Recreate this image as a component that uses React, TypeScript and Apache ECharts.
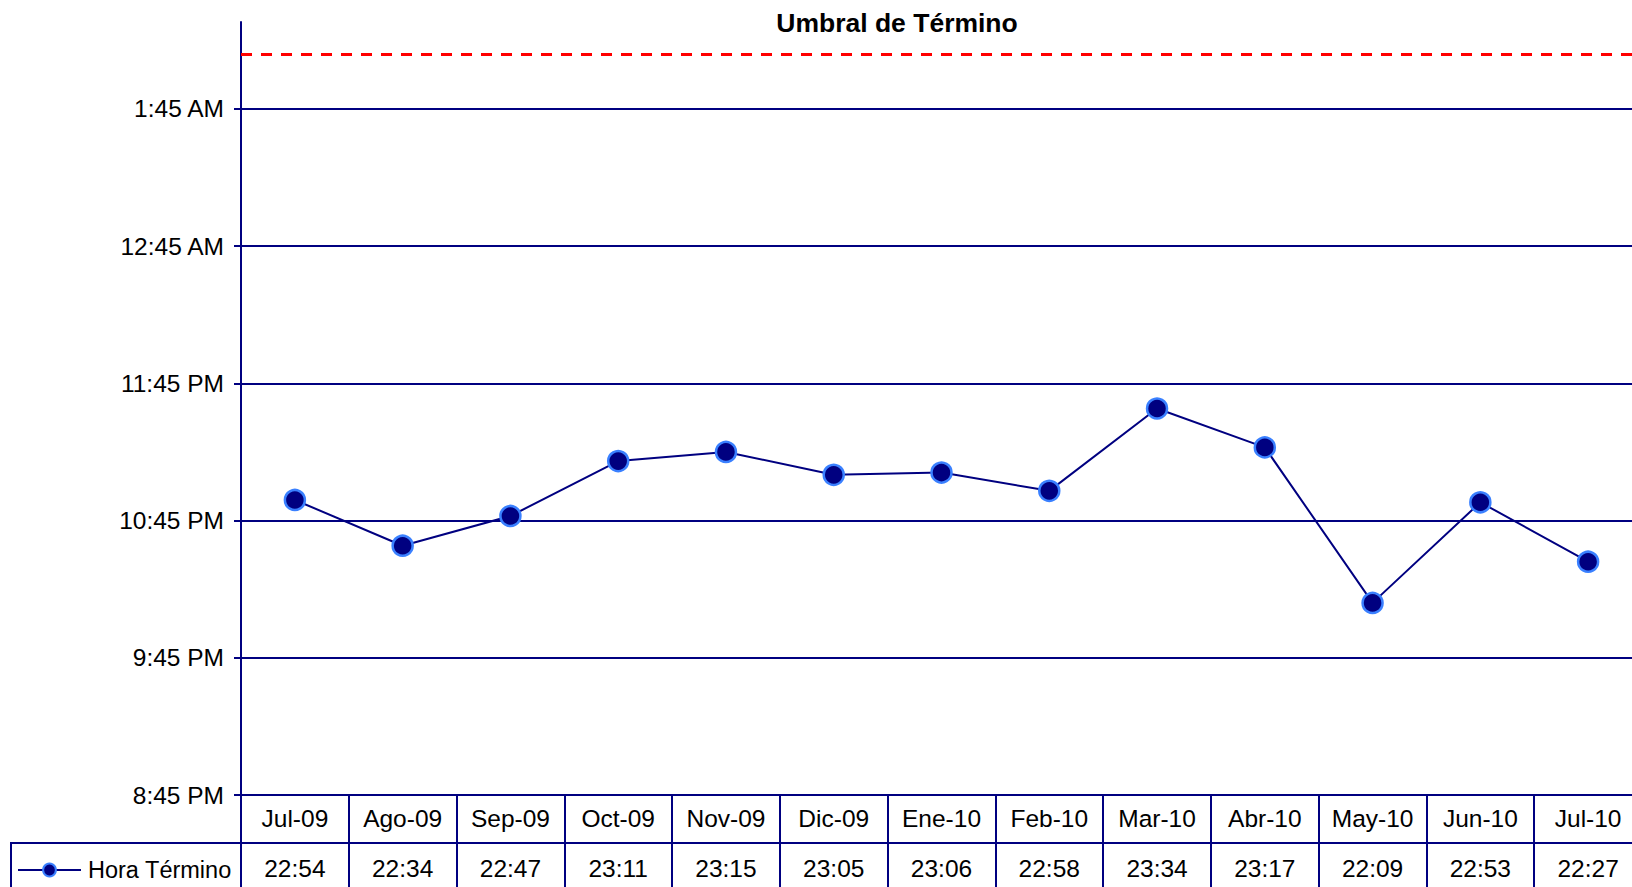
import React, { useEffect, useRef } from "react";
import * as echarts from "echarts";

const categories = ["Jul-09", "Ago-09", "Sep-09", "Oct-09", "Nov-09", "Dic-09", "Ene-10", "Feb-10", "Mar-10", "Abr-10", "May-10", "Jun-10", "Jul-10"];
const horaTermino = ["22:54", "22:34", "22:47", "23:11", "23:15", "23:05", "23:06", "22:58", "23:34", "23:17", "22:09", "22:53", "22:27"];
const tickLabels = ["8:45 PM", "9:45 PM", "10:45 PM", "11:45 PM", "12:45 AM", "1:45 AM"];
const axisBase = "20:45";
const axisTopTime = "02:23";
const umbralTime = "02:09";
const seriesName = "Hora Término";
const titleText = "Umbral de Término";

const NAVY = "#000080";
const FONT = "'Liberation Sans', Arial, sans-serif";

function hm(t: string): number {
  const [h, m] = t.split(":").map(Number);
  return h * 60 + m;
}
function rel(t: string): number {
  let v = hm(t) - hm(axisBase);
  if (v < 0) v += 1440;
  return v;
}
function rel12(t: string): number {
  const [time, ap] = t.split(" ");
  let [h, m] = time.split(":").map(Number);
  if (ap === "PM" && h !== 12) h += 12;
  if (ap === "AM" && h === 12) h = 0;
  return rel(`${h}:${m}`);
}

const tickValues = tickLabels.map(rel12);
const values = horaTermino.map(rel);

export default function App() {
  const ref = useRef<HTMLDivElement>(null);
  useEffect(() => {
    const chart = echarts.init(ref.current!, null, { renderer: "svg" });
    chart.setOption({
      animation: false,
      backgroundColor: "#ffffff",
      textStyle: { fontFamily: FONT },
      grid: { left: 241, right: 0, top: 22, bottom: 92, containLabel: false },
      legend: {
        data: [seriesName],
        left: 17,
        top: 858,
        itemWidth: 63,
        itemHeight: 16,
        padding: 0,
        textStyle: { fontSize: 23.5, color: "#000", fontFamily: FONT, padding: [0, 0, 0, 2] },
      },
      xAxis: {
        type: "category",
        data: categories,
        boundaryGap: true,
        axisLine: { lineStyle: { color: NAVY, width: 2 } },
        axisTick: { show: true, inside: false, length: 100, interval: 0, lineStyle: { color: NAVY, width: 2 } },
        axisLabel: {
          interval: 0,
          margin: 0,
          formatter: (v: string, i: number) => `{c|${v}}\n{v|${horaTermino[i]}}`,
          rich: {
            c: { fontSize: 24.5, lineHeight: 47, color: "#000", fontFamily: FONT },
            v: { fontSize: 24.5, lineHeight: 53, color: "#000", fontFamily: FONT },
          },
        },
        splitLine: { show: false },
      },
      yAxis: {
        type: "value",
        min: 0,
        max: rel(axisTopTime),
        interval: 60,
        axisLine: { show: true, lineStyle: { color: NAVY, width: 2 } },
        axisTick: { show: true, length: 7, customValues: tickValues, lineStyle: { color: NAVY, width: 2 } },
        axisLabel: {
          customValues: tickValues,
          margin: 17,
          fontSize: 24.5,
          color: "#000",
          fontFamily: FONT,
          formatter: (v: number) => {
            const i = tickValues.indexOf(v);
            return i >= 0 ? tickLabels[i] : "";
          },
        },
        splitLine: { show: true, lineStyle: { color: NAVY, width: 2 } },
      },
      series: [
        {
          name: seriesName,
          type: "line",
          data: values,
          symbol: "circle",
          symbolSize: 20,
          lineStyle: { color: NAVY, width: 2 },
          itemStyle: { color: NAVY, borderColor: "#3a80ff", borderWidth: 2.5 },
          markLine: {
            silent: true,
            symbol: "none",
            label: { show: false },
            lineStyle: { color: "#ff0000", type: [11, 9], width: 3 },
            data: [{ yAxis: rel(umbralTime) }],
          },
          z: 5,
        },
      ],
      graphic: [
        {
          type: "text",
          x: 897,
          y: 23,
          style: {
            text: titleText,
            fontSize: 26.5,
            fontWeight: "bold",
            fontFamily: FONT,
            fill: "#000",
            textAlign: "center",
            textVerticalAlign: "middle",
          },
        },
        {
          type: "line",
          shape: { x1: 10, y1: 843, x2: 1642, y2: 843 },
          style: { stroke: NAVY, lineWidth: 2 },
        },
        {
          type: "line",
          shape: { x1: 11, y1: 843, x2: 11, y2: 887 },
          style: { stroke: NAVY, lineWidth: 2 },
        },
      ],
    });
    return () => chart.dispose();
  }, []);
  return (
    <div
      style={{ position: "fixed", left: 0, top: 0, width: 1632, height: 887, overflow: "hidden", background: "#fff" }}
    >
      <div ref={ref} style={{ position: "absolute", left: 0, top: 0, width: 1642, height: 887 }} />
    </div>
  );
}
